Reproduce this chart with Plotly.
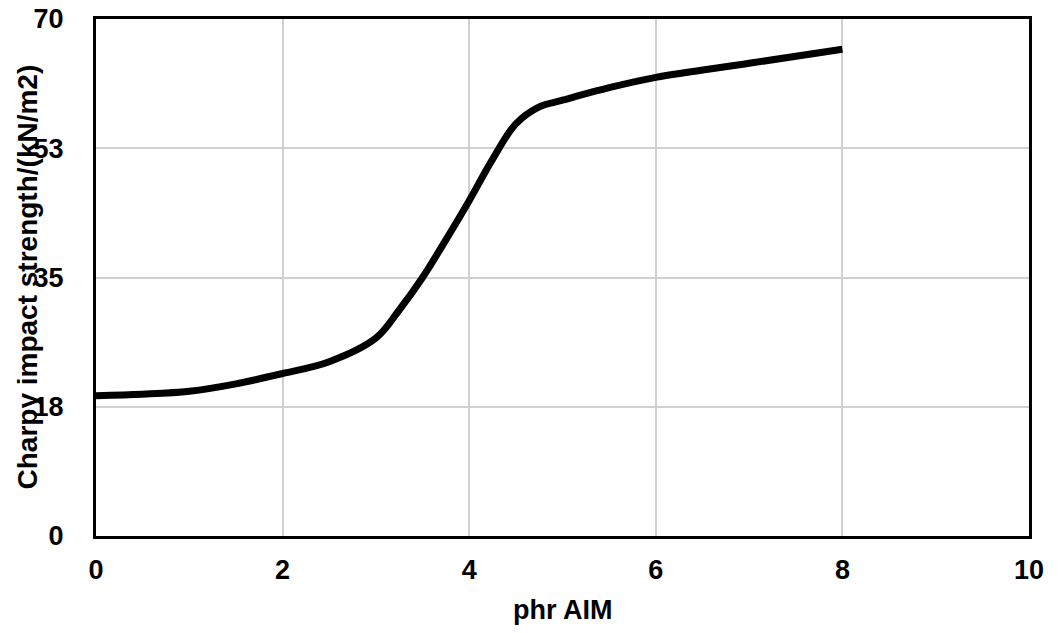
import plotly.graph_objects as go

phr_aim = [0, 0.5, 1, 1.5, 2, 2.5, 3, 3.25, 3.5, 3.75, 4, 4.25, 4.5, 4.75, 5, 5.5, 6, 7, 8]
charpy = [19.0, 19.2, 19.6, 20.6, 22.0, 23.6, 26.8, 30.6, 35.0, 40.1, 45.4, 51.0, 55.8, 58.1, 59.0, 60.7, 62.1, 64.0, 65.9]

x_ticks = [0, 2, 4, 6, 8, 10]
y_tickvals = [0, 17.5, 35, 52.5, 70]
y_ticktext = ["0", "18", "35", "53", "70"]

FONT = "Liberation Sans, Arial, sans-serif"

fig = go.Figure()
fig.add_trace(go.Scatter(
    x=phr_aim, y=charpy, mode="lines",
    line=dict(color="black", width=7, shape="spline", smoothing=1.0),
    showlegend=False, hoverinfo="x+y",
))

W, H = 1064, 633
L, R, T, B = 96, 35, 19, 97
pw, ph = W - L - R, H - T - B

fig.update_layout(
    width=W, height=H,
    margin=dict(l=L, r=R, t=T, b=B, autoexpand=False),
    paper_bgcolor="white", plot_bgcolor="white",
    font=dict(family=FONT, size=28, color="black"),
    xaxis=dict(
        range=[0, 10], tickvals=x_ticks, ticktext=[str(v) for v in x_ticks],
        showgrid=True, gridcolor="#d0d0d0", gridwidth=2,
        showline=True, linecolor="black", linewidth=3, mirror=True,
        zeroline=False, ticks="", ticklabelstandoff=8, automargin=False,
        tickfont=dict(family=FONT, size=27, color="black", weight="bold"),
    ),
    yaxis=dict(
        range=[0, 70], tickvals=y_tickvals, ticktext=y_ticktext,
        showgrid=True, gridcolor="#d0d0d0", gridwidth=2,
        showline=True, linecolor="black", linewidth=3, mirror=True,
        zeroline=False, ticks="", ticklabelstandoff=24, automargin=False,
        tickfont=dict(family=FONT, size=27, color="black", weight="bold"),
    ),
    annotations=[
        dict(text="<b>Charpy impact strength/(kN/m2)</b>", xref="paper", yref="paper",
             x=(27 - L) / pw, y=0.5, xanchor="center", yanchor="middle",
             textangle=-90, showarrow=False, font=dict(family=FONT, size=28, color="black")),
        dict(text="<b>phr AIM</b>", xref="paper", yref="paper",
             x=0.5, y=-(610 - (H - B)) / ph, xanchor="center", yanchor="middle",
             showarrow=False, font=dict(family=FONT, size=27, color="black")),
    ],
)

fig.write_html("out.html")
